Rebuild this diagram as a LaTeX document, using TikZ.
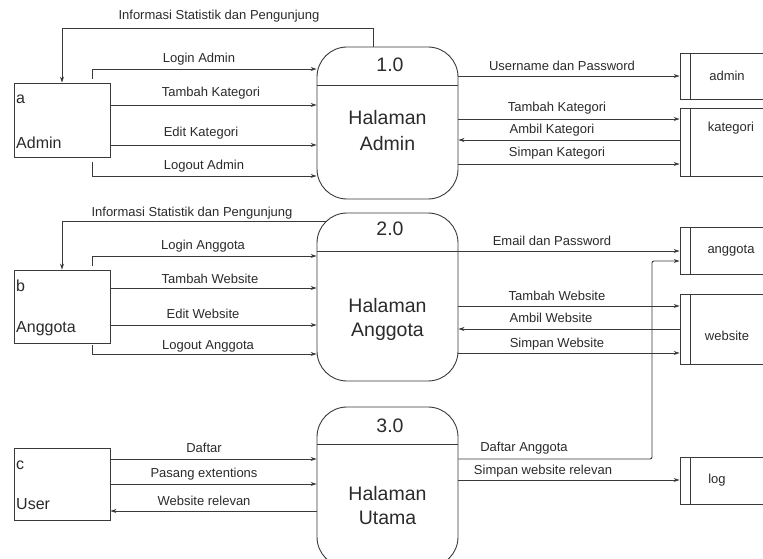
\documentclass[tikz,border=0pt]{standalone}
\usepackage{fontspec}
\setmainfont{Liberation Sans}
\usetikzlibrary{arrows.meta}
\definecolor{ln}{HTML}{3A3A3A}
\definecolor{txt}{HTML}{2B2B2B}
\tikzset{
  plain/.style={draw=ln, line width=0.9pt},
  flow/.style={draw=ln, line width=0.9pt, -{Stealth[length=6pt,width=4pt]}},
  lbl/.style={font=\fontsize{13}{13}\selectfont, text=txt, inner sep=0pt, anchor=base},
  etxt/.style={font=\fontsize{16}{16}\selectfont, text=txt, inner sep=0pt, anchor=base west},
  big/.style={font=\fontsize{19.5}{20}\selectfont, text=txt, inner sep=0pt, anchor=base},
  ent/.style={draw=ln, line width=0.9pt, minimum width=96pt, inner sep=0pt},
  proc/.style={draw=ln, line width=0.9pt, rounded corners=30pt, minimum width=141pt, inner sep=0pt},
  store/.style={draw=ln, line width=0.9pt, minimum width=90pt, inner sep=0pt,
    path picture={\draw[ln, line width=0.9pt] ([xshift=10pt]path picture bounding box.north west) -- ([xshift=10pt]path picture bounding box.south west);}},
}
\begin{document}
\begin{tikzpicture}[x=1pt, y=-1pt]
\useasboundingbox (0,0) rectangle (763,559);
\fill[white] (0,0) rectangle (763,559);
\clip (0,0) rectangle (763,559);

% external entities
\node[ent, minimum height=74pt] (ea) at (62,120) {};
\node[ent, minimum height=73pt] (eb) at (62,306.5) {};
\node[ent, minimum height=72pt] (ec) at (62,484) {};
\node[etxt] (ea1) at (16,104) {a};
\node[etxt] (ea2) at (16,149) {Admin};
\node[etxt] (eb1) at (16,291) {b};
\node[etxt] (eb2) at (16,332) {Anggota};
\node[etxt] (ec1) at (16,469) {c};
\node[etxt] (ec2) at (16,509) {User};

% processes
\node[proc, minimum height=152pt] (p1) at (387.5,123) {};
\node[proc, minimum height=168pt] (p2) at (387.5,297) {};
\node[proc, minimum height=160pt] (p3) at (387.5,487) {};
\draw[plain] (p1.west |- 0,85) -- (p1.east |- 0,85);
\draw[plain] (p2.west |- 0,251) -- (p2.east |- 0,251);
\draw[plain] (p3.west |- 0,444) -- (p3.east |- 0,444);
\node[big] (n1) at (390,72) {1.0};
\node[big] (n2) at (390,235) {2.0};
\node[big] (n3) at (390,432) {3.0};
\node[big] (h1a) at (387.5,125) {Halaman};
\node[big] (h1b) at (387.5,150) {Admin};
\node[big] (h2a) at (387.5,312) {Halaman};
\node[big] (h2b) at (387.5,336) {Anggota};
\node[big] (h3a) at (387.5,500) {Halaman};
\node[big] (h3b) at (387.5,524) {Utama};

% data stores
\node[store, minimum height=46pt] (sadm) at (725,76) {};
\node[store, minimum height=68pt] (skat) at (725,142) {};
\node[store, minimum height=47pt] (sang) at (725,250.5) {};
\node[store, minimum height=70pt] (sweb) at (725,329) {};
\node[store, minimum height=47pt] (slog) at (725,480.5) {};
\node[lbl, anchor=center] (tadm) at (727,76) {admin};
\node[lbl, anchor=center] (tkat) at (731,128) {kategori};
\node[lbl, anchor=center] (tang) at (731,251) {anggota};
\node[lbl, anchor=center] (tweb) at (727,336) {website};
\node[lbl, anchor=center] (tlog) at (717,480) {log};

% helper coordinates
\coordinate (c1) at (373,28);
\coordinate (c2) at (326.5,221);
\coordinate (sa1) at (92,79);
\coordinate (sa2) at (92,162);
\coordinate (sb1) at (92,266);
\coordinate (sb2) at (92,345);
\coordinate (k1) at (652,459);
\coordinate (k2) at (652,261);

% ---- section 1
\draw[flow] (p1.north -| c1) -- (c1) -| (ea.north);
\draw[flow] (sa1) |- (p1.west |- 0,69);
\draw[flow] (ea.east |- 0,105) -- (p1.west |- 0,105);
\draw[flow] (ea.east |- 0,145) -- (p1.west |- 0,145);
\draw[flow] (sa2) |- (p1.west |- 0,176);
\draw[flow] (p1.east |- 0,76) -- (sadm.west |- 0,76);
\draw[flow] (p1.east |- 0,119) -- (skat.west |- 0,119);
\draw[flow] (skat.west |- 0,140) -- (p1.east |- 0,140);
\draw[flow] (p1.east |- 0,164) -- (skat.west |- 0,164);
\node[lbl] (l1) at (219,20) {Informasi Statistik dan Pengunjung};
\node[lbl] (l2) at (199,63) {Login Admin};
\node[lbl] (l3) at (211,97) {Tambah Kategori};
\node[lbl] (l4) at (201,137) {Edit Kategori};
\node[lbl] (l5) at (204,170) {Logout Admin};
\node[lbl] (l6) at (562,71) {Username dan Password};
\node[lbl] (l7) at (557,112) {Tambah Kategori};
\node[lbl] (l8) at (552,134) {Ambil Kategori};
\node[lbl] (l9) at (557,157) {Simpan Kategori};

% ---- section 2
\draw[flow] (c2) -| (eb.north);
\draw[flow] (sb1) |- (p2.west |- 0,256);
\draw[flow] (eb.east |- 0,288) -- (p2.west |- 0,288);
\draw[flow] (eb.east |- 0,325) -- (p2.west |- 0,325);
\draw[flow] (sb2) |- (p2.west |- 0,354);
\draw[flow] (p2.east |- 0,251) -- (sang.west |- 0,251);
\draw[flow] (p2.east |- 0,306) -- (sweb.west |- 0,306);
\draw[flow] (sweb.west |- 0,329) -- (p2.east |- 0,329);
\draw[flow] (p2.east |- 0,353) -- (sweb.west |- 0,353);
\node[lbl] (m1) at (192,216) {Informasi Statistik dan Pengunjung};
\node[lbl] (m2) at (203,249) {Login Anggota};
\node[lbl] (m3) at (210,283) {Tambah Website};
\node[lbl] (m4) at (203,318) {Edit Website};
\node[lbl] (m5) at (208,349) {Logout Anggota};
\node[lbl] (m6) at (552,245) {Email dan Password};
\node[lbl] (m7) at (557,300) {Tambah Website};
\node[lbl] (m8) at (551,322) {Ambil Website};
\node[lbl] (m9) at (557,347) {Simpan Website};

% ---- section 3
\draw[flow] (ec.east |- 0,459) -- (p3.west |- 0,459);
\draw[flow] (ec.east |- 0,484) -- (p3.west |- 0,484);
\draw[flow] (p3.west |- 0,511) -- (ec.east |- 0,511);
\draw[flow, rounded corners=2pt] (p3.east |- k1) -- (k1) -- (k2) -- (sang.west |- k2);
\draw[flow] (p3.east |- 0,480) -- (slog.west |- 0,480);
\node[lbl] (b1) at (204,452) {Daftar};
\node[lbl] (b2) at (204,477) {Pasang extentions};
\node[lbl] (b3) at (204,505) {Website relevan};
\node[lbl] (b4) at (524,451) {Daftar Anggota};
\node[lbl] (b5) at (543,474) {Simpan website relevan};
\end{tikzpicture}
\end{document}
